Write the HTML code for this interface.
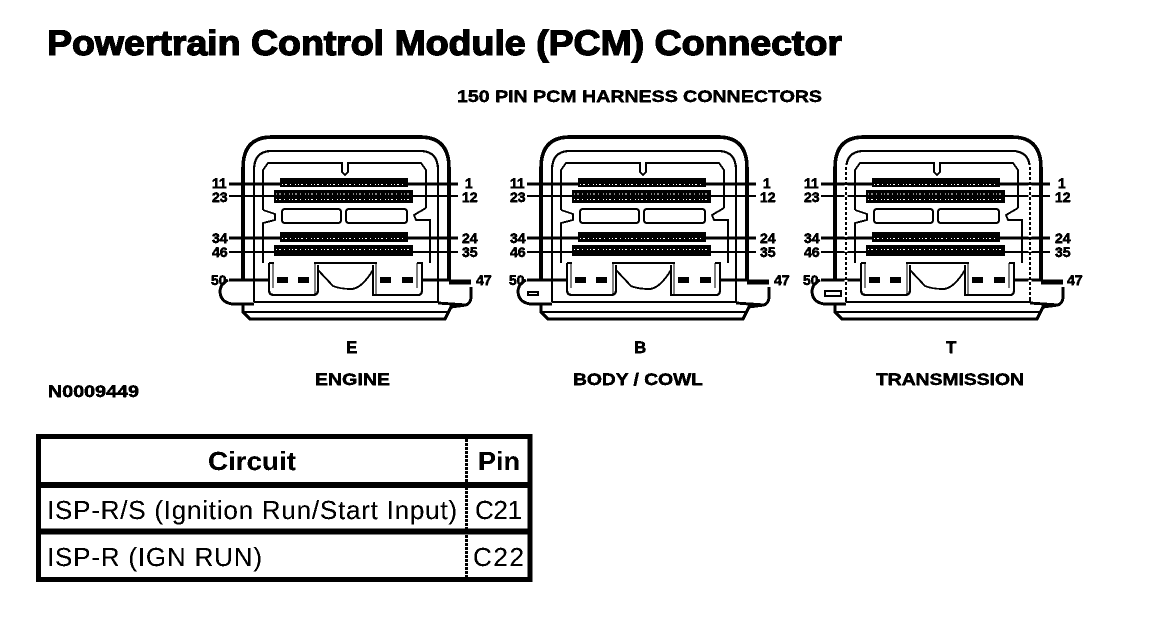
<!DOCTYPE html>
<html><head><meta charset="utf-8">
<style>
html,body{margin:0;padding:0;background:#fff;width:1152px;height:632px;overflow:hidden}
svg{display:block}
text{font-family:"Liberation Sans",sans-serif;fill:#000}
.b{font-weight:bold}
.s{font-size:17px;font-weight:bold;stroke:#000;stroke-width:.4}
.p{font-size:14px;font-weight:bold;stroke:#000;stroke-width:.5}
</style></head>
<body>
<svg width="1152" height="632" viewBox="0 0 1152 632" xmlns="http://www.w3.org/2000/svg">
<defs>
<filter id="th" x="0" y="0" width="100%" height="100%" color-interpolation-filters="sRGB">
<feComponentTransfer><feFuncR type="discrete" tableValues="0 0 1"/><feFuncG type="discrete" tableValues="0 0 1"/><feFuncB type="discrete" tableValues="0 0 1"/></feComponentTransfer>
</filter>
<g id="c" fill="none" stroke="#000">
  <!-- outer shell -->
  <path d="M243 281V168Q243 137 272 137H420Q449 137 449 168V281" stroke-width="3.400"/>
  <!-- inner shell -->
  <path d="M254 302V170Q254 152 270 151H422Q438 152 438 170V303" stroke-width="2"/>
  <!-- base -->
  <path d="M228 280Q220 284 220 292Q221 303 233 304H254M243 305V312L250 319H445L451 307L466 305Q471 303 471 296V287M438 303L466 305" stroke-width="2.800"/>
  <path d="M243 312H447M254 302H438" stroke-width="1.800"/>
  <!-- inner board -->
  <path d="M263 210V170L268 163H342V172L345 175L348 172V163H421L426 170V208M263 210L275 214V220L263 223V263M426 208L414 215L416 220H430V263" stroke-width="1.700"/>
  <!-- pin blocks -->
  <rect x="280" y="178" width="128" height="9" fill="#000" stroke="none"/>
  <rect x="274" y="190" width="139" height="13" fill="#000" stroke="none"/>
  <rect x="280" y="232" width="128" height="10" fill="#000" stroke="none"/>
  <rect x="274" y="245" width="139" height="11" fill="#000" stroke="none"/>
  <path d="M282 184.500H407M276 194H412M276 199.500H412M282 238.500H407M276 249.500H412" stroke="#fff" stroke-width="1.100" stroke-dasharray="1 2 2 3 1 4 1 2"/>
  <!-- leads -->
  <path d="M229 184H280M408 184H458M229 238H280M408 238H458" stroke-width="2.800"/>
  <path d="M229 196H274M413 196H458M229 252H274M413 252H458" stroke-width="2.200"/>
  <path d="M229 280H268M422 280H449" stroke-width="3"/>
  <path d="M449 282H471" stroke-width="4.500"/>
  <!-- mid windows -->
  <rect x="282" y="209" width="59" height="14" rx="3" stroke-width="2"/>
  <rect x="346" y="209" width="61" height="14" rx="3" stroke-width="2"/>
  <!-- lower boxes -->
  <path d="M269 263V290Q269 295 274 295H313Q318 295 318 290V265M269 263H274M373 265V295H418Q422 295 422 290V263H417M314 263H377" stroke-width="2"/>
  <path d="M273 263V288M417 263V288M315 263V295M376 263V295" stroke-width="1.200"/>
  <path d="M318 270L333 286Q340 289 352 289Q362 288 373 270" stroke-width="1.700"/>
  <rect x="277" y="277" width="11" height="6" fill="#000" stroke="none"/>
  <rect x="298" y="277" width="11" height="6" fill="#000" stroke="none"/>
  <rect x="380" y="277" width="11" height="6" fill="#000" stroke="none"/>
  <rect x="402" y="277" width="11" height="6" fill="#000" stroke="none"/>
</g>
</defs>

<g filter="url(#th)">
<rect width="1152" height="632" fill="#fff"/>
<text x="47" y="55" class="b" font-size="35" textLength="795" lengthAdjust="spacingAndGlyphs" stroke="#000" stroke-width="1.200">Powertrain Control Module (PCM) Connector</text>
<text x="457" y="102" class="s" textLength="365" lengthAdjust="spacingAndGlyphs">150 PIN PCM HARNESS CONNECTORS</text>

<use href="#c"/>
<use href="#c" x="298"/>
<use href="#c" x="592"/>
<path d="M528 292H538V295H528ZM825 291H841V296H825Z" fill="none" stroke="#000" stroke-width="1.800"/>
<path d="M846 165V300M1030 165V300" fill="none" stroke="#fff" stroke-width="3" stroke-dasharray="2 3"/>

<text class="p" x="212" y="188">11</text><text class="p" x="212" y="202">23</text><text class="p" x="212" y="243">34</text><text class="p" x="212" y="257">46</text><text class="p" x="211" y="285">50</text>
<text class="p" x="465" y="188">1</text><text class="p" x="462" y="202">12</text><text class="p" x="462" y="243">24</text><text class="p" x="462" y="257">35</text><text class="p" x="476" y="285">47</text>
<text class="p" x="510" y="188">11</text><text class="p" x="510" y="202">23</text><text class="p" x="510" y="243">34</text><text class="p" x="510" y="257">46</text><text class="p" x="509" y="285">50</text>
<text class="p" x="763" y="188">1</text><text class="p" x="760" y="202">12</text><text class="p" x="760" y="243">24</text><text class="p" x="760" y="257">35</text><text class="p" x="774" y="285">47</text>
<text class="p" x="804" y="188">11</text><text class="p" x="804" y="202">23</text><text class="p" x="804" y="243">34</text><text class="p" x="804" y="257">46</text><text class="p" x="803" y="285">50</text>
<text class="p" x="1058" y="188">1</text><text class="p" x="1055" y="202">12</text><text class="p" x="1055" y="243">24</text><text class="p" x="1055" y="257">35</text><text class="p" x="1067" y="285">47</text>

<text x="346" y="353" class="s">E</text>
<text x="634" y="353" class="s">B</text>
<text x="946" y="353" class="s">T</text>
<text x="315" y="385" class="s" textLength="75" lengthAdjust="spacingAndGlyphs">ENGINE</text>
<text x="573" y="385" class="s" textLength="130" lengthAdjust="spacingAndGlyphs">BODY / COWL</text>
<text x="876" y="385" class="s" textLength="148" lengthAdjust="spacingAndGlyphs">TRANSMISSION</text>
<text x="48" y="397" class="s" textLength="91" lengthAdjust="spacingAndGlyphs">N0009449</text>

<!-- table -->
<rect x="38.500" y="436.500" width="491.500" height="143" fill="none" stroke="#000" stroke-width="5"/>
<path d="M41 485H528M41 531.500H528" stroke="#000" stroke-width="6" fill="none"/>
<path d="M466.500 439V577" stroke="#000" stroke-width="3" stroke-dasharray="3 1" fill="none"/>
<text x="208" y="470" class="b" font-size="26" textLength="88" lengthAdjust="spacingAndGlyphs">Circuit</text>
<text x="478" y="470" class="b" font-size="26" textLength="42" lengthAdjust="spacingAndGlyphs">Pin</text>
<text x="47" y="519" font-size="26" textLength="410" lengthAdjust="spacing">ISP-R/S (Ignition Run/Start Input)</text>
<text x="475" y="519" font-size="26" textLength="47" lengthAdjust="spacing">C21</text>
<text x="47" y="566" font-size="26" textLength="215" lengthAdjust="spacing">ISP-R (IGN RUN)</text>
<text x="473" y="566" font-size="26" textLength="51" lengthAdjust="spacing">C22</text>
</g>
</svg>
</body></html>
